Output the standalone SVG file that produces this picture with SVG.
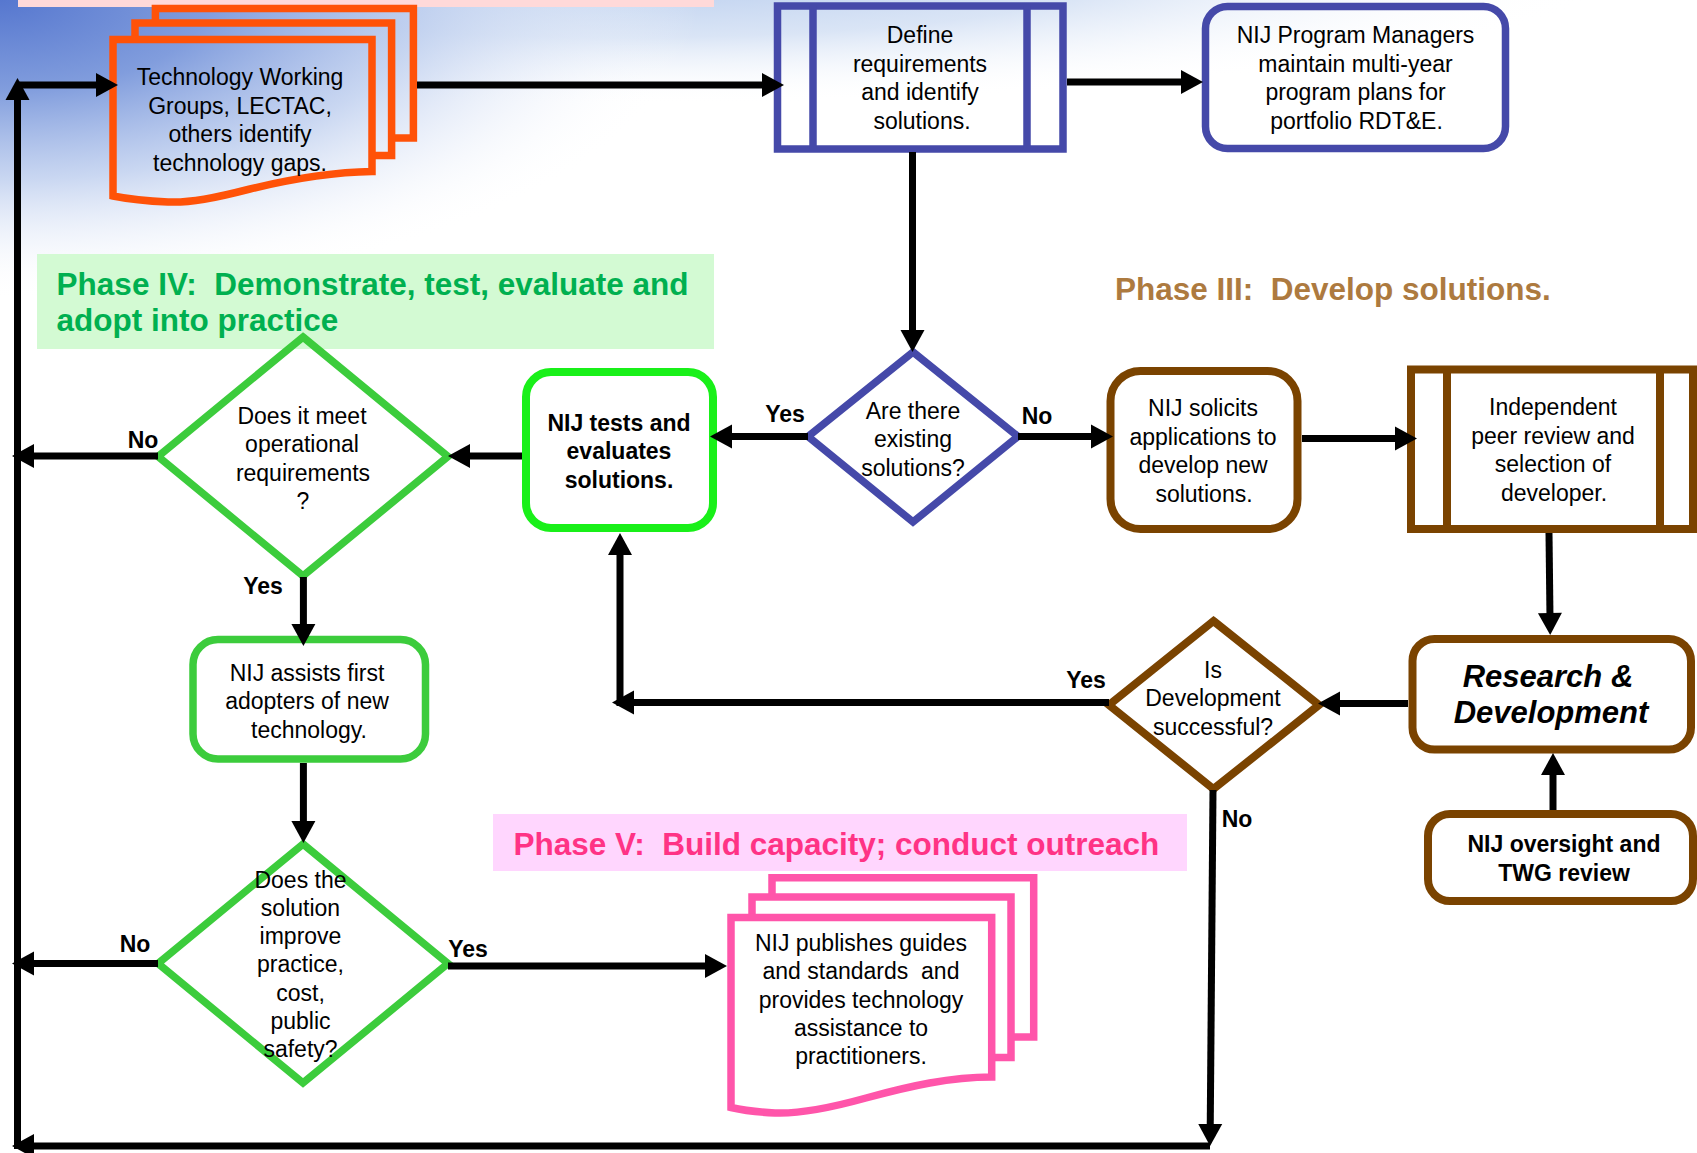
<svg xmlns="http://www.w3.org/2000/svg" width="1697" height="1153" viewBox="0 0 1697 1153">
<defs>
<radialGradient id="bgc" gradientUnits="userSpaceOnUse" cx="0" cy="0" r="1" gradientTransform="scale(700,300)">
<stop offset="0" stop-color="#5677cf"/>
<stop offset="0.3" stop-color="#819ddd"/>
<stop offset="0.6" stop-color="#bccdee" stop-opacity="0.8"/>
<stop offset="1" stop-color="#ffffff" stop-opacity="0"/>
</radialGradient>
<radialGradient id="bgt" gradientUnits="userSpaceOnUse" cx="0" cy="0" r="1" gradientTransform="translate(620,-30) scale(1000,135)">
<stop offset="0" stop-color="#b4caed"/>
<stop offset="0.5" stop-color="#d3e0f4" stop-opacity="0.85"/>
<stop offset="1" stop-color="#ffffff" stop-opacity="0"/>
</radialGradient>
<marker id="ah" markerUnits="userSpaceOnUse" markerWidth="24" markerHeight="24" refX="6" refY="12" orient="auto" overflow="visible">
<path d="M0,0 L22,12 L0,24 z" fill="#000"/>
</marker>
<style>
.t{font-family:"Liberation Sans",Arial,sans-serif;font-size:23px;fill:#000;text-anchor:middle}
.b{font-weight:bold}
.lbl{font-family:"Liberation Sans",Arial,sans-serif;font-size:23px;font-weight:bold;fill:#000;text-anchor:middle}
.h{font-family:"Liberation Sans",Arial,sans-serif;font-size:31.5px;font-weight:bold}
.c{fill:none;stroke:#000;stroke-width:7;marker-end:url(#ah)}
.or{fill:none;stroke:#ff5208;stroke-width:7.5}
.bl{stroke:#4549a9;stroke-width:7.5}
.br{stroke:#7a4300;stroke-width:8}
.gr{stroke:#3ccc3c;stroke-width:7.5}
.pk{fill:none;stroke:#ff55aa;stroke-width:7.5}
</style>
</defs>
<rect x="0" y="0" width="1697" height="1153" fill="#ffffff"/>
<rect x="0" y="0" width="1590" height="200" fill="url(#bgt)"/>
<rect x="0" y="0" width="800" height="400" fill="url(#bgc)"/>

<g id="bands">
<rect x="18" y="0" width="696" height="7" fill="#ffd9d9"/>
<rect x="37" y="254" width="677" height="95" fill="#d3fad3"/>
<rect x="493" y="814" width="694" height="57" fill="#ffd6fe"/>
<text class="h" x="56.6" y="295" fill="#00b050" xml:space="preserve">Phase IV:  Demonstrate, test, evaluate and</text>
<text class="h" x="56.6" y="330.7" fill="#00b050">adopt into practice</text>
<text class="h" x="1115" y="300" fill="#ad7a3f" xml:space="preserve">Phase III:  Develop solutions.</text>
<text class="h" x="513.4" y="854.7" fill="#ff3385" xml:space="preserve">Phase V:  Build capacity; conduct outreach</text>
</g>

<g id="n-gaps">
<path class="or" d="M155.4,23 L155.4,8.5 L413.4,8.5 L413.4,138 L391.6,138"/>
<path class="or" d="M135,39.5 L135,23 L391.6,23 L391.6,155.5 L372,155.5"/>
<path class="or" d="M113,39.5 L372,39.5 L372,171.5 C335,172 295,178 250,189 C215,198 190,203 168,202 C145,201 128,199 113,196 Z"/>
<text class="t" x="240" y="85">Technology Working</text>
<text class="t" x="240" y="113.5">Groups, LECTAC,</text>
<text class="t" x="240" y="142">others identify</text>
<text class="t" x="240" y="170.5">technology gaps.</text>
</g>

<g id="n-define">
<rect class="bl" x="777.5" y="6" width="285.5" height="143" fill="none"/>
<line class="bl" x1="813" y1="6" x2="813" y2="149"/>
<line class="bl" x1="1027" y1="6" x2="1027" y2="149"/>
<text class="t" x="920" y="43">Define</text>
<text class="t" x="920" y="71.5">requirements</text>
<text class="t" x="920" y="100">and identify</text>
<text class="t" x="922" y="128.5">solutions.</text>
</g>

<g id="n-pm">
<rect class="bl" x="1205.5" y="6.5" width="300" height="142" rx="22" fill="none"/>
<text class="t" x="1355.5" y="43">NIJ Program Managers</text>
<text class="t" x="1355.5" y="71.5">maintain multi-year</text>
<text class="t" x="1355.5" y="100">program plans for</text>
<text class="t" x="1356.5" y="128.5">portfolio RDT&amp;E.</text>
</g>

<g id="n-existing">
<polygon class="bl" points="913,352 1018,436.5 913,522 808,436.5" fill="none"/>
<text class="t" x="913" y="418.5">Are there</text>
<text class="t" x="913" y="447">existing</text>
<text class="t" x="913" y="475.5">solutions?</text>
</g>

<g id="n-solicits">
<rect class="br" x="1110.5" y="371" width="187" height="158" rx="30" fill="#fff"/>
<text class="t" x="1203" y="416">NIJ solicits</text>
<text class="t" x="1203" y="444.5">applications to</text>
<text class="t" x="1203" y="473">develop new</text>
<text class="t" x="1204" y="501.5">solutions.</text>
</g>

<g id="n-peer">
<rect class="br" x="1411" y="369.5" width="282" height="159.5" fill="#fff"/>
<line class="br" x1="1447" y1="369.5" x2="1447" y2="529"/>
<line class="br" x1="1660" y1="369.5" x2="1660" y2="529"/>
<text class="t" x="1553" y="415">Independent</text>
<text class="t" x="1553" y="443.5">peer review and</text>
<text class="t" x="1553" y="472">selection of</text>
<text class="t" x="1554" y="500.5">developer.</text>
</g>

<g id="n-rd">
<rect class="br" x="1412.5" y="639" width="278.5" height="110.5" rx="22" fill="#fff"/>
<text class="t b" x="1548" y="687" style="font-size:31px;font-style:italic">Research &amp;</text>
<text class="t b" x="1551" y="723" style="font-size:31px;font-style:italic">Development</text>
</g>

<g id="n-oversight">
<rect class="br" x="1428" y="814" width="265" height="87" rx="22" fill="#fff"/>
<text class="t b" x="1564" y="852">NIJ oversight and</text>
<text class="t b" x="1564" y="880.5">TWG review</text>
</g>

<g id="n-success">
<polygon class="br" points="1213.5,621 1319,705 1213.5,789 1109,705" fill="none"/>
<text class="t" x="1213" y="677.5">Is</text>
<text class="t" x="1213" y="706">Development</text>
<text class="t" x="1213" y="734.5">successful?</text>
</g>

<g id="n-tests">
<rect x="526" y="372" width="187" height="156" rx="25" fill="#fff" stroke="#19f019" stroke-width="8"/>
<text class="t b" x="619" y="430.7">NIJ tests and</text>
<text class="t b" x="619" y="459">evaluates</text>
<text class="t b" x="619" y="488">solutions.</text>
</g>

<g id="n-meet">
<polygon class="gr" points="303,337 448,456.5 303,576 158,456.5" fill="none"/>
<text class="t" x="302" y="423.5">Does it meet</text>
<text class="t" x="302" y="452">operational</text>
<text class="t" x="303" y="480.5">requirements</text>
<text class="t" x="303" y="509">?</text>
</g>

<g id="n-assists">
<rect class="gr" x="193" y="639.5" width="232.5" height="119.5" rx="25" fill="#fff"/>
<text class="t" x="307" y="680.5">NIJ assists first</text>
<text class="t" x="307" y="709">adopters of new</text>
<text class="t" x="309" y="737.5">technology.</text>
</g>

<g id="n-improve">
<polygon class="gr" points="303,844 448,963.5 303,1083 158,963.5" fill="none"/>
<text class="t" x="300.5" y="887.5">Does the</text>
<text class="t" x="300.5" y="915.8">solution</text>
<text class="t" x="300.5" y="944.1">improve</text>
<text class="t" x="300.5" y="972.4">practice,</text>
<text class="t" x="300.5" y="1000.7">cost,</text>
<text class="t" x="300.5" y="1029">public</text>
<text class="t" x="300.5" y="1057.3">safety?</text>
</g>

<g id="n-publishes">
<path class="pk" d="M772,897 L772,877.7 L1033.7,877.7 L1033.7,1037 L1011,1037"/>
<path class="pk" d="M752,917.5 L752,897 L1011,897 L1011,1057.5 L991.7,1057.5"/>
<path class="pk" d="M731,917.5 L991.7,917.5 L991.7,1077 C950,1077 910,1086 866,1098 C830,1108 800,1114 775,1113 C755,1112 742,1110 731,1107.5 Z" style="fill:#fff"/>
<text class="t" x="861" y="951">NIJ publishes guides</text>
<text class="t" x="861" y="979.3" xml:space="preserve">and standards  and</text>
<text class="t" x="861" y="1007.7">provides technology</text>
<text class="t" x="861" y="1036">assistance to</text>
<text class="t" x="861" y="1064.3">practitioners.</text>
</g>

<g id="connectors">
<path class="c" d="M17.5,1149 L17.5,94"/>
<path class="c" d="M17.5,85 L102,85"/>
<path class="c" d="M417,85 L768,85"/>
<path class="c" d="M1067,82 L1187,82"/>
<path class="c" d="M912.5,152 L912.5,336"/>
<path class="c" d="M808,436.5 L726,436.5"/>
<path class="c" d="M1018,436.5 L1097,436.5"/>
<path class="c" d="M1302,438.5 L1401,438.5"/>
<path class="c" d="M1549,533 L1550,619"/>
<path class="c" d="M1408,703.5 L1334,703.5"/>
<path class="c" d="M1553,810 L1553,769"/>
<path class="c" d="M1109,702.5 L628,702.5"/>
<path class="c" d="M620,706 L620,549"/>
<path class="c" d="M522,456 L464,456"/>
<path class="c" d="M158,456 L28,456"/>
<path class="c" d="M303.4,577 L303.4,630"/>
<path class="c" d="M303.4,763 L303.4,827"/>
<path class="c" d="M158,963.5 L28,963.5"/>
<path class="c" d="M448,966 L711,966"/>
<path class="c" d="M1213,790 L1210.2,1130"/>
<path class="c" d="M1210,1146 L28,1146"/>
</g>

<g id="labels">
<text class="lbl" x="143" y="448">No</text>
<text class="lbl" x="263" y="594">Yes</text>
<text class="lbl" x="785" y="422">Yes</text>
<text class="lbl" x="1037" y="424">No</text>
<text class="lbl" x="1086" y="688">Yes</text>
<text class="lbl" x="1237" y="827">No</text>
<text class="lbl" x="135" y="952">No</text>
<text class="lbl" x="468" y="957">Yes</text>
</g>
</svg>
